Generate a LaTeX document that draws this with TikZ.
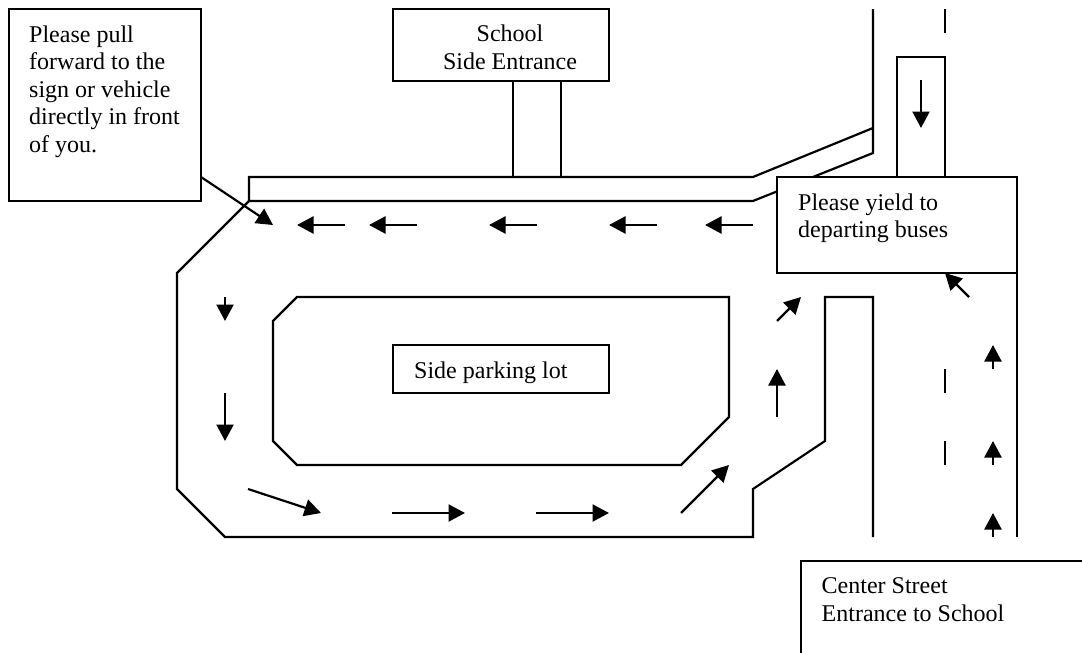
\documentclass[tikz,border=0pt]{standalone}
\usepackage{fontspec}
\setmainfont{Liberation Serif}
\usetikzlibrary{arrows.meta}
\tikzset{
  road/.style={line width=2.2pt,line join=miter,line cap=butt},
  dir/.style={line width=2.2pt,-{Triangle[length=16.5pt,width=17pt]}},
  sign/.style={draw,line width=2.2pt,minimum width=0pt,minimum height=0pt,inner sep=0pt,outer sep=0pt,anchor=north west},
  lbl/.style={align=left,anchor=north west,inner sep=0pt,font=\fontsize{24}{27.5}\selectfont,text=black},
}
\begin{document}
\begin{tikzpicture}[x=1pt,y=-1pt]
\useasboundingbox (0,0) rectangle (1082,653);
\fill[white] (0,0) rectangle (1082,653);
% lot outline
\draw[road] (873,9) -- (873,153) -- (753,201) -- (249,201) -- (249,177) -- (753,177) -- (873,128);
\draw[road] (513,81) -- (513,177) (561,81) -- (561,177);
\draw[road] (249,201) -- (177,273) -- (177,489) -- (225,537) -- (753,537) -- (753,489) -- (825,441) -- (825,297) -- (873,297) -- (873,537);
\draw[road] (297,297) -- (729,297) -- (729,417) -- (681,465) -- (297,465) -- (273,441) -- (273,321) -- cycle;
% street
\draw[road] (945,9) -- (945,33);
\draw[road] (897,177) -- (897,57) -- (945,57) -- (945,177);
\draw[road] (1017,273) -- (1017,537);
\draw[road] (945,369) -- (945,393) (945,441) -- (945,465);
% sign boxes
\node[sign,fill=white,minimum width=216pt,minimum height=72pt] (school) at (393,9) {};
\node[sign,fill=white,minimum width=240pt,minimum height=96pt] (yield) at (777,177) {};
\node[sign,fill=white,minimum width=216pt,minimum height=48pt] (lot) at (393,345) {};
\node[sign,minimum width=192pt,minimum height=192pt] (pullbox) at (9,9) {};
\draw[road] (1084,561) -- (801,561) -- (801,655);
\node[lbl,align=center,anchor=north] (schooltxt) at (510,25) {School\hspace{8pt}\\Side Entrance};
\node[lbl] (yieldtxt) at (798,193.5) {Please yield to\\departing buses};
\node[lbl] (lottxt) at (414,361.5) {Side parking lot};
\node[lbl] (pull) at (29,25.5) {Please pull\\forward to the\\sign or vehicle\\directly in front\\of you.};
\node[lbl] (center) at (821.5,577.5) {Center Street\\Entrance to School};
% arrows
\coordinate (pullfrom) at (201,177);
\coordinate (pullto) at (273,225);
\draw[dir] (pullfrom) -- (pullto);
\foreach \a/\b in {345/297,417/369,537/489,657/609,753/705}{\draw[dir] (\a,225) -- (\b,225);}
\draw[dir] (225,297) -- (225,321);
\draw[dir] (225,393) -- (225,441);
\draw[dir] (248,489) -- (321,513);
\draw[dir] (392,513) -- (465,513);
\draw[dir] (536,513) -- (609,513);
\draw[dir] (681,513) -- (729,465);
\draw[dir] (777,417) -- (777,369);
\draw[dir] (777,321) -- (801,297);
\draw[dir] (969,297) -- (945,273);
\draw[dir] (921,80) -- (921,128);
\draw[dir] (993,369) -- (993,345);
\draw[dir] (993,465) -- (993,441);
\draw[dir] (993,537) -- (993,513);
\end{tikzpicture}
\end{document}
